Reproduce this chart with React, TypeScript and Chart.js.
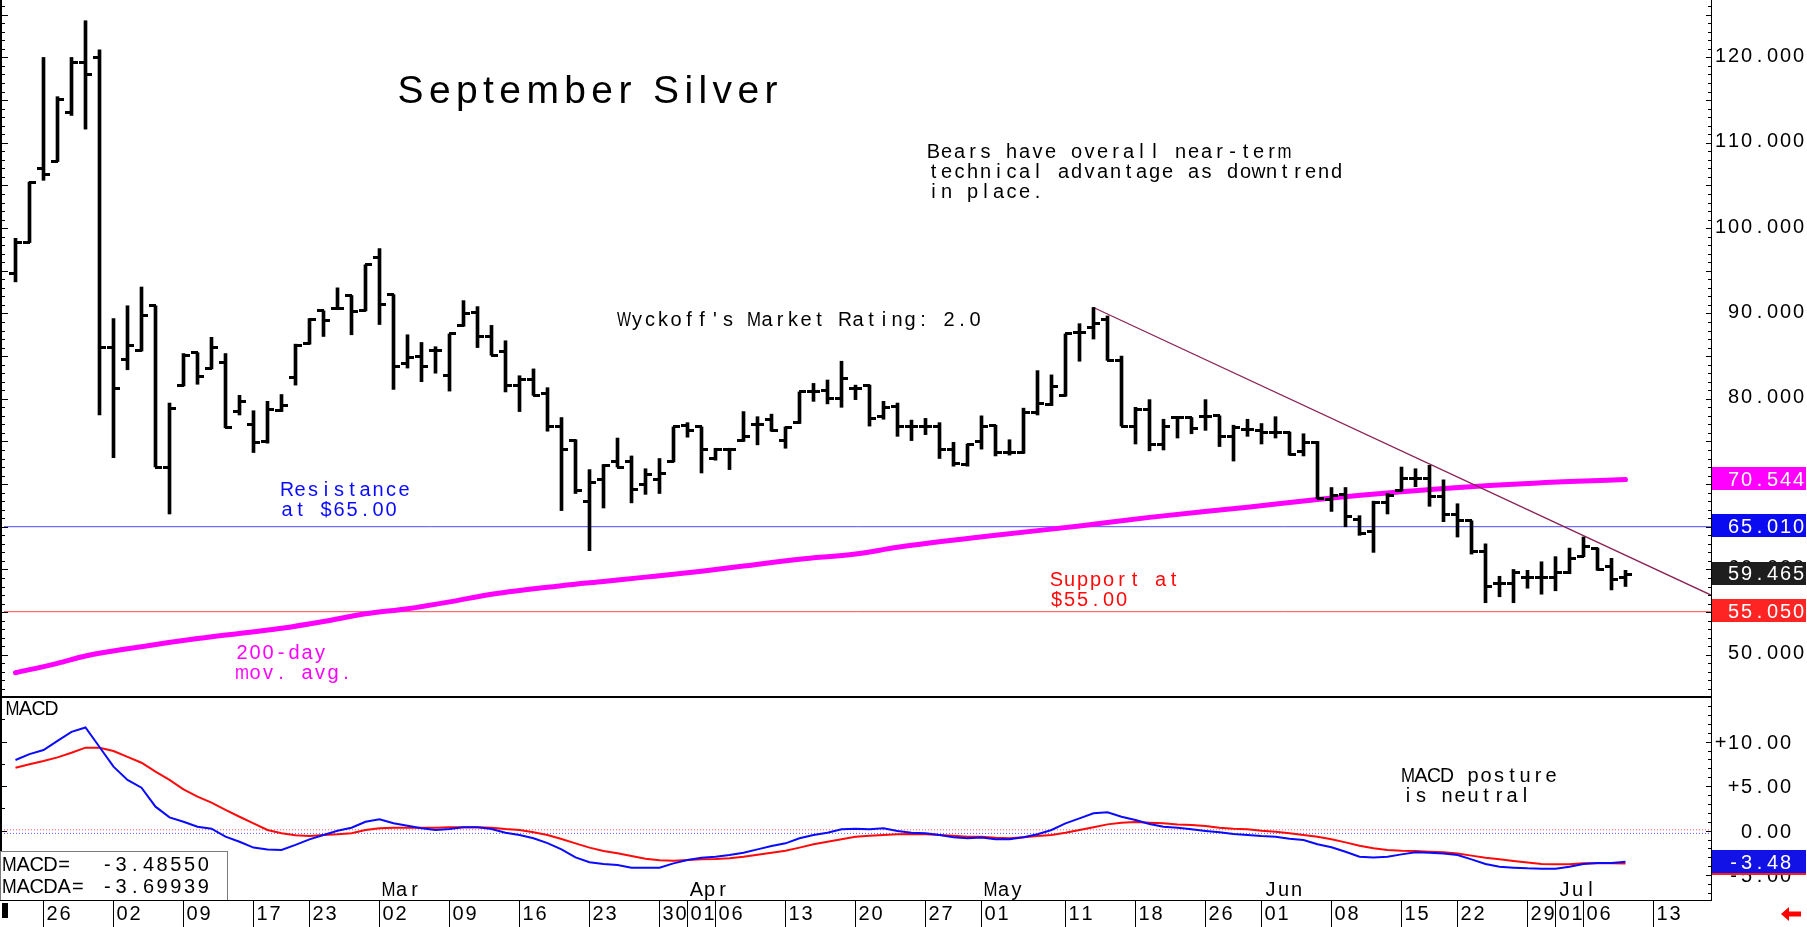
import React, { useEffect, useRef } from 'react';
import { Chart, registerables } from 'chart.js';

Chart.register(...registerables);

// ---------------- data ----------------
// trading-day index 0 = Jan 22, last (115) = Jul 09
const OPEN = [94.7, 98.3, 107.0, 107.8, 113.6, 119.4, 120.0, 86.0, 84.6, 85.7,
  90.9, 72.0, 81.5, 85.4, 83.6, 84.3, 78.5, 77.0, 75.0, 78.6,
  82.5, 86.5, 90.3, 90.6, 92.1, 90.4, 96.6, 92.2, 84.1, 84.9,
  85.7, 82.7, 88.6, 90.1, 87.3, 85.5, 81.5, 82.3, 80.6, 76.7,
  75.1, 68.0, 70.5, 72.6, 72.7, 69.9, 70.5, 72.7, 76.9, 76.7,
  73.0, 74.0, 75.1, 77.0, 77.6, 75.1, 77.2, 80.8, 81.0, 80.0,
  81.15, 81.5, 77.9, 79.1, 76.7, 76.8, 76.7, 74.1, 72.3, 75.0,
  76.9, 73.7, 73.7, 78.4, 79.3, 80.4, 87.75, 88.3, 89.3, 84.5,
  76.7, 78.8, 74.6, 77.8, 77.8, 77.9, 78.0, 75.6, 76.4, 76.3,
  76.0, 76.1, 73.8, 74.9, 68.2, 68.8, 65.9, 64.5, 67.9, 69.3,
  70.7, 70.7, 68.5, 66.4, 65.7, 62.1, 58.4, 58.4, 59.0, 59.0,
  59.0, 59.7, 61.5, 62.5, 60.3, 59.0];
const HIGH = [98.8, 105.4, 120.0, 115.4, 120.0, 124.3, 120.9, 89.4, 90.9, 93.1,
  90.9, 79.5, 85.3, 85.4, 87.2, 85.3, 80.4, 78.6, 79.7, 80.5,
  86.4, 89.4, 90.3, 93.0, 92.1, 95.7, 97.6, 92.2, 87.5, 86.6,
  86.1, 87.6, 91.5, 90.8, 88.6, 86.8, 82.7, 83.5, 81.3, 77.8,
  75.2, 71.7, 72.3, 75.4, 73.3, 71.8, 73.0, 76.7, 77.2, 76.7,
  74.2, 74.2, 78.5, 77.9, 78.2, 76.7, 80.8, 81.8, 82.2, 84.4,
  81.6, 81.6, 79.7, 79.5, 77.5, 77.7, 77.2, 74.9, 74.7, 78.0,
  76.9, 75.2, 78.9, 83.3, 82.8, 87.6, 88.8, 90.7, 89.7, 85.0,
  79.0, 79.9, 77.6, 77.9, 77.8, 79.9, 78.0, 76.9, 77.6, 77.1,
  77.9, 76.1, 75.9, 75.0, 69.6, 69.6, 66.3, 68.0, 68.9, 72.0,
  71.8, 72.2, 70.5, 67.7, 65.7, 63.0, 59.2, 60.0, 59.9, 60.9,
  61.5, 62.5, 63.8, 62.5, 61.3, 59.9];
const LOW = [93.7, 98.3, 105.6, 107.8, 113.2, 111.6, 78.1, 73.1, 83.4, 85.6,
  72.0, 66.5, 81.5, 81.7, 83.5, 76.6, 78.1, 73.7, 74.8, 78.5,
  81.6, 86.4, 87.3, 90.6, 87.5, 90.3, 88.7, 81.1, 83.6, 82.0,
  83.0, 80.9, 88.5, 86.0, 85.1, 80.8, 78.5, 80.4, 76.2, 66.9,
  68.9, 62.2, 67.2, 72.0, 67.8, 68.8, 68.9, 72.6, 75.5, 71.3,
  72.8, 71.7, 75.0, 74.6, 76.2, 74.2, 77.1, 79.7, 79.4, 79.0,
  79.9, 76.8, 77.6, 75.6, 75.1, 75.8, 73.0, 72.1, 72.1, 74.1,
  73.3, 73.4, 73.6, 78.1, 79.2, 80.3, 84.4, 87.0, 84.5, 76.8,
  74.7, 73.9, 74.0, 75.4, 75.9, 76.3, 74.4, 72.7, 75.6, 74.7,
  75.4, 73.4, 73.3, 68.3, 66.8, 65.0, 64.0, 62.0, 66.5, 69.2,
  69.7, 67.4, 65.6, 63.8, 61.8, 56.1, 56.8, 56.1, 57.8, 57.1,
  57.5, 59.5, 61.5, 59.9, 57.6, 58.0];
const CLOSE = [98.3, 105.4, 106.3, 115.1, 119.4, 118.0, 86.0, 81.2, 86.3, 89.7,
  72.0, 78.9, 85.1, 82.6, 86.0, 76.6, 79.7, 74.9, 78.8, 79.2,
  86.3, 89.3, 89.2, 90.6, 90.2, 95.7, 91.0, 83.8, 84.8, 83.8,
  85.7, 87.6, 90.0, 87.3, 85.1, 81.5, 82.3, 80.4, 76.7, 74.0,
  69.3, 70.2, 72.2, 72.0, 69.4, 71.1, 71.3, 76.7, 76.3, 74.0,
  74.1, 74.0, 75.6, 77.0, 76.3, 76.6, 80.8, 80.8, 80.0, 82.4,
  81.15, 77.7, 79.0, 76.7, 76.7, 76.8, 74.1, 72.4, 74.7, 76.7,
  73.7, 73.7, 78.4, 79.5, 81.4, 87.6, 87.75, 88.8, 84.5, 76.8,
  78.8, 74.6, 76.7, 77.8, 76.5, 77.9, 75.6, 76.6, 76.4, 76.0,
  76.0, 73.5, 74.9, 68.3, 68.7, 66.2, 64.2, 67.9, 68.7, 70.7,
  70.7, 68.5, 66.4, 65.7, 62.1, 58.0, 58.4, 59.7, 59.0, 59.0,
  59.7, 61.3, 62.7, 60.0, 58.8, 59.465];

// 200-day moving average, read at these trading-day indices
const MA_IDX = [0, 3, 5, 9, 13, 19, 22, 25, 28, 31, 34, 39, 42, 45, 49, 52, 56, 60, 63, 70, 76, 81, 88, 93, 99, 105, 111, 115];
const MA_VAL = [47.9, 49.0, 49.85, 50.95, 51.9, 53.1, 53.9, 54.8, 55.4, 56.2, 57.1, 58.1, 58.6, 59.1, 59.8, 60.4, 61.2, 61.8, 62.6, 64.0, 65.1, 66.1, 67.3, 68.2, 69.1, 69.8, 70.3, 70.544];

const MACD = [7.94, 8.6, 9.07, 10.1, 11.1, 11.6, 9.4, 7.2, 5.7, 4.83,
  2.7, 1.5, 1.0, 0.45, 0.22, -0.67, -1.24, -1.9, -2.1, -2.17,
  -1.6, -0.97, -0.48, 0.0, 0.34, 1.0, 1.28, 0.83, 0.56, 0.27,
  0.08, 0.19, 0.38, 0.38, 0.19, -0.22, -0.48, -0.85, -1.4, -2.1,
  -3.0, -3.55, -3.74, -3.85, -4.15, -4.15, -4.15, -3.67, -3.3, -3.03,
  -2.92, -2.73, -2.47, -2.1, -1.72, -1.42, -0.85, -0.48, -0.22, 0.15,
  0.22, 0.15, 0.27, -0.03, -0.22, -0.3, -0.48, -0.74, -0.85, -0.77,
  -0.96, -0.96, -0.74, -0.4, 0.08, 0.83, 1.39, 1.95, 2.06, 1.57,
  1.2, 0.75, 0.45, 0.34, 0.15, -0.03, -0.18, -0.37, -0.48, -0.6,
  -0.67, -0.9, -1.05, -1.53, -1.87, -2.36, -2.92, -3.0, -2.92, -2.66,
  -2.43, -2.47, -2.55, -2.73, -3.22, -3.74, -4.04, -4.15, -4.23, -4.27,
  -4.27, -4.04, -3.74, -3.63, -3.63, -3.4855];
const MACDA = [7.08, 7.46, 7.83, 8.24, 8.76, 9.33, 9.33, 8.96, 8.3, 7.64,
  6.63, 5.7, 4.65, 3.82, 3.15, 2.33, 1.57, 0.83, 0.08, -0.29,
  -0.52, -0.6, -0.48, -0.41, -0.29, 0.08, 0.27, 0.34, 0.34, 0.34,
  0.34, 0.38, 0.38, 0.38, 0.34, 0.19, 0.08, -0.18, -0.48, -0.93,
  -1.42, -1.9, -2.28, -2.54, -2.84, -3.14, -3.33, -3.37, -3.3, -3.22,
  -3.18, -3.1, -2.92, -2.7, -2.47, -2.25, -1.9, -1.53, -1.24, -0.97,
  -0.67, -0.56, -0.48, -0.41, -0.37, -0.41, -0.48, -0.56, -0.67, -0.67,
  -0.79, -0.86, -0.74, -0.6, -0.48, -0.22, 0.08, 0.38, 0.71, 0.9,
  0.97, 0.9, 0.83, 0.71, 0.64, 0.52, 0.34, 0.22, 0.15, 0.0,
  -0.11, -0.3, -0.48, -0.67, -0.97, -1.31, -1.68, -1.98, -2.17, -2.25,
  -2.28, -2.36, -2.43, -2.55, -2.8, -3.03, -3.22, -3.4, -3.56, -3.74,
  -3.78, -3.78, -3.67, -3.67, -3.67, -3.69939];

const DATE_TICK_IDX = [2, 7, 12, 17, 21, 26, 31, 36, 41, 46, 48, 50, 55, 60, 65, 69, 75, 80, 85, 89, 94, 99, 103, 108, 110, 112, 117];
const DATE_TICK_LABELS = ['26', '02', '09', '17', '23', '02', '09', '16', '23', '30', '01', '06', '13', '20', '27', '01', '11', '18', '26', '01', '08', '15', '22', '29', '01', '06', '13'];
const MONTH_IDX = [26, 48, 69, 89, 110];
const MONTH_LABELS = ['Mar', 'Apr', 'May', 'Jun', 'Jul'];

const PRICE_TICKS = [50, 60, 70, 80, 90, 100, 110, 120];
const PRICE_TICK_LABELS = ['50.000', '60.000', '70.000', '80.000', '90.000', '100.000', '110.000', '120.000'];
const MACD_TICKS = [10, 5, 0, -5];
const MACD_TICK_LABELS = ['+10.00', '+5.00', '0.00', '-5.00'];

const RESISTANCE = 65.01;
const SUPPORT = 55.05;
const MA_LAST = 70.544;
const LAST_CLOSE = 59.465;
const TREND_IDX = [77, 121.107];
const TREND_VAL = [90.7, 57.0];
const MACD_ZERO_RED = 0.1;
const MACD_ZERO_BLUE = -0.3;
const MACD_LAST = -3.4855;
const MACDA_LAST = -3.69939;

const TITLE = 'September Silver';
const BEARS_LINES = ['Bears have overall near-term', 'technical advantage as downtrend', 'in place.'];
const WYCKOFF = "Wyckoff's Market Rating: 2.0";
const RES_LINES = ['Resistance', 'at $65.00'];
const MA_LINES = ['200-day', 'mov. avg.'];
const SUP_LINES = ['Support at', '$55.00'];
const POSTURE_LINES = ['MACD posture', 'is neutral'];

// ---------------- layout ----------------
const W = 1807;
const H1 = 696;
const H2 = 231;
const X_MIN = -0.8214;
const X_MAX = 121.107;
const P_MIN = 45.17;
const P_MAX = 126.73;
const M_MIN = -7.787;
const M_MAX = 15.135;
const AXIS_X = 1711;
const FONT = '"Liberation Sans", Arial, Helvetica, sans-serif';

function trunc2(v: number) {
  return (Math.trunc(v * 100) / 100).toFixed(2);
}

function cellText(ctx: any, text: string, x0: number, yc: number, color = '#000', cell = 13, size = 20) {
  ctx.save();
  ctx.font = `${size}px ${FONT}`;
  ctx.fillStyle = color;
  ctx.textBaseline = 'alphabetic';
  ctx.textAlign = 'left';
  const base = yc + size * 0.358;
  for (let i = 0; i < text.length; i++) {
    const ch = text[i];
    if (ch === ' ') continue;
    const w = ctx.measureText(ch).width;
    const cx = x0 + (i + 0.5) * cell;
    const maxW = cell + 1;
    if (w > maxW) {
      ctx.save();
      ctx.translate(cx, base);
      ctx.scale(maxW / w, 1);
      ctx.fillText(ch, -w / 2, 0);
      ctx.restore();
    } else {
      ctx.fillText(ch, cx - w / 2, base);
    }
  }
  ctx.restore();
}
function cellTextR(ctx: any, text: string, xr: number, yc: number, color = '#000', cell = 13, size = 20) {
  cellText(ctx, text, xr - text.length * cell, yc, color, cell, size);
}
function spacedText(ctx: any, text: string, x0: number, baseline: number, totalW: number, size: number, color: string) {
  ctx.save();
  ctx.font = `${size}px ${FONT}`;
  ctx.fillStyle = color;
  ctx.textBaseline = 'alphabetic';
  const ws = [...text].map((ch) => ctx.measureText(ch).width);
  const sum = ws.reduce((a, b) => a + b, 0);
  const ls = (totalW - sum) / (text.length - 1);
  let x = x0;
  for (let i = 0; i < text.length; i++) {
    ctx.fillText(text[i], x, baseline);
    x += ws[i] + ls;
  }
  ctx.restore();
}
function valueBox(ctx: any, yc: number, fill: string, label: string, xr: number) {
  ctx.save();
  ctx.fillStyle = fill;
  ctx.fillRect(AXIS_X + 1, Math.round(yc - 11.5), 94, 23);
  ctx.restore();
  cellTextR(ctx, label, xr, yc, '#fff');
}

function tickImage(side: 'L' | 'R') {
  const c = document.createElement('canvas');
  c.width = 13;
  c.height = 3;
  const g = c.getContext('2d')!;
  g.fillStyle = '#000';
  if (side === 'L') g.fillRect(0, 0, 7, 3);
  else g.fillRect(6, 0, 7, 3);
  return c;
}

const pricePlugin = {
  id: 'priceDecor',
  beforeDatasetsDraw(chart: any) {
    const ctx = chart.ctx;
    spacedText(ctx, TITLE, 397.5, 103, 380, 39, '#000');
    BEARS_LINES.forEach((t, k) => cellText(ctx, t, 927, 151 + k * 19.7));
    cellText(ctx, WYCKOFF, 617.5, 318.5);
    RES_LINES.forEach((t, k) => cellText(ctx, t, 280.5, 489.2 + k * 20, '#0a0aff'));
    MA_LINES.forEach((t, k) => cellText(ctx, t, 235.5, 652.2 + k * 20, '#ff00ff'));
    SUP_LINES.forEach((t, k) => cellText(ctx, t, 1050, 578.5 + k * 20, '#ff0a0a'));
  },
  afterDraw(chart: any) {
    const ctx = chart.ctx;
    const y = chart.scales.y;
    ctx.save();
    ctx.fillStyle = '#000';
    ctx.fillRect(0, 0, 2, H1);
    ctx.fillRect(AXIS_X, 0, 1, H1);
    for (let v = Math.ceil(P_MIN); v <= Math.floor(P_MAX); v++) {
      const py = Math.round(y.getPixelForValue(v));
      const major = v % 5 === 0;
      ctx.fillRect(2, py, major ? 6 : 3, 1);
      ctx.fillRect(AXIS_X - (major ? 5 : 3), py, major ? 5 : 3, 1);
    }
    ctx.restore();
    PRICE_TICKS.forEach((v, k) => cellTextR(ctx, PRICE_TICK_LABELS[k], 1805, y.getPixelForValue(v) - 2.5));
    valueBox(ctx, y.getPixelForValue(MA_LAST) - 1, '#ff00ff', MA_LAST.toFixed(3), 1805);
    valueBox(ctx, y.getPixelForValue(RESISTANCE) - 1, '#0b0bf2', RESISTANCE.toFixed(3), 1805);
    valueBox(ctx, y.getPixelForValue(LAST_CLOSE) - 1, '#1e1e1e', LAST_CLOSE.toFixed(3), 1805);
    valueBox(ctx, y.getPixelForValue(SUPPORT) - 1, '#ff2424', SUPPORT.toFixed(3), 1805);
  },
};

const macdPlugin = {
  id: 'macdDecor',
  afterDraw(chart: any) {
    const ctx = chart.ctx;
    const y = chart.scales.y;
    const x = chart.scales.x;
    const bottom = chart.chartArea.bottom; // full y = 900
    ctx.save();
    ctx.fillStyle = '#000';
    ctx.fillRect(0, 0, AXIS_X + 1, 2);
    ctx.fillRect(0, 0, 2, bottom);
    ctx.fillRect(AXIS_X, 0, 1, bottom);
    for (let v = Math.ceil(M_MIN); v <= Math.floor(M_MAX); v++) {
      const py = Math.round(y.getPixelForValue(v));
      const major = v % 5 === 0;
      ctx.fillRect(AXIS_X - (major ? 5 : 3), py, major ? 5 : 3, 1);
    }
    for (let v = -7.5; v <= 15; v += 2.5) {
      const py = Math.round(y.getPixelForValue(v));
      ctx.fillRect(2, py, v % 5 === 0 ? 5 : 3, 1);
    }
    ctx.restore();

    MACD_TICKS.forEach((v, k) => cellTextR(ctx, MACD_TICK_LABELS[k], 1792, y.getPixelForValue(v)));
    valueBox(ctx, y.getPixelForValue(MACDA_LAST), '#ff1a1a', trunc2(MACDA_LAST), 1792);
    valueBox(ctx, y.getPixelForValue(MACD_LAST), '#1212e6', trunc2(MACD_LAST), 1792);

    cellText(ctx, 'MACD', 6, 12);
    POSTURE_LINES.forEach((t, k) => cellText(ctx, t, 1401.5, 79 + k * 19.5));

    // MACD value box
    ctx.save();
    ctx.fillStyle = '#fff';
    ctx.fillRect(0, 155, 228, bottom - 155);
    ctx.strokeStyle = '#7a7a7a';
    ctx.lineWidth = 1;
    ctx.strokeRect(0.5, 155.5, 227, bottom - 155);
    ctx.restore();
    cellText(ctx, 'MACD=', 2.5, 167.7, '#000', 13.7);
    cellText(ctx, MACD_LAST.toFixed(5), 100.5, 167.7, '#000', 13.7);
    cellText(ctx, 'MACDA=', 2.5, 189.8, '#000', 13.7);
    cellText(ctx, MACDA_LAST.toFixed(5), 100.5, 189.8, '#000', 13.7);

    // month labels
    MONTH_IDX.forEach((i, k) => {
      const px = x.getPixelForValue(i);
      cellText(ctx, MONTH_LABELS[k], px + 2.5, 193.3);
    });

    // date strip
    ctx.save();
    ctx.fillStyle = '#000';
    ctx.fillRect(0, bottom, AXIS_X + 1, 1);
    DATE_TICK_IDX.forEach((i) => {
      const px = Math.floor(x.getPixelForValue(i));
      ctx.fillRect(px, bottom, 1, H2 - bottom);
    });
    ctx.fillRect(2, 207, 6, 15);
    // red arrow
    ctx.fillStyle = '#ff0000';
    ctx.beginPath();
    ctx.moveTo(1781, 218);
    ctx.lineTo(1789, 211);
    ctx.lineTo(1789, 215.5);
    ctx.lineTo(1801, 215.5);
    ctx.lineTo(1801, 220.5);
    ctx.lineTo(1789, 220.5);
    ctx.lineTo(1789, 225);
    ctx.closePath();
    ctx.fill();
    ctx.restore();
    DATE_TICK_IDX.forEach((i, k) => {
      const px = Math.floor(x.getPixelForValue(i));
      cellText(ctx, DATE_TICK_LABELS[k], px + 2.5, 217);
    });
  },
};

export default function App() {
  const r1 = useRef<HTMLCanvasElement>(null);
  const r2 = useRef<HTMLCanvasElement>(null);

  useEffect(() => {
    const idx = OPEN.map((_, i) => i);
    const leftImg = tickImage('L');
    const rightImg = tickImage('R');

    const xScale = { type: 'linear', min: X_MIN, max: X_MAX, display: false, offset: false, grid: { offset: false } };

    const c1 = new Chart(r1.current as HTMLCanvasElement, {
      type: 'line',
      data: {
        datasets: [
          {
            type: 'bar',
            data: idx.map((i) => ({ x: i, y: [LOW[i], HIGH[i]] })),
            backgroundColor: '#000',
            borderWidth: 0,
            barThickness: 3,
            grouped: false,
            order: 0,
          } as any,
          {
            type: 'scatter',
            data: idx.map((i) => ({ x: i, y: OPEN[i] })),
            pointStyle: leftImg,
            pointRadius: 3,
            order: 0,
          } as any,
          {
            type: 'scatter',
            data: idx.map((i) => ({ x: i, y: CLOSE[i] })),
            pointStyle: rightImg,
            pointRadius: 3,
            order: 0,
          } as any,
          {
            type: 'line',
            data: TREND_IDX.map((xv, k) => ({ x: xv, y: TREND_VAL[k] })),
            borderColor: '#8c2456',
            borderWidth: 1.3,
            pointRadius: 0,
            order: 1,
          },
          {
            type: 'line',
            data: MA_IDX.map((xv, k) => ({ x: xv, y: MA_VAL[k] })),
            borderColor: '#ff00ff',
            borderWidth: 5,
            pointRadius: 0,
            cubicInterpolationMode: 'monotone',
            borderCapStyle: 'round',
            order: 2,
          },
          {
            type: 'line',
            data: [{ x: X_MIN, y: RESISTANCE }, { x: X_MAX, y: RESISTANCE }],
            borderColor: '#4a4aff',
            borderWidth: 1,
            pointRadius: 0,
            order: 3,
          },
          {
            type: 'line',
            data: [{ x: X_MIN, y: SUPPORT }, { x: X_MAX, y: SUPPORT }],
            borderColor: '#ff4a4a',
            borderWidth: 1,
            pointRadius: 0,
            order: 3,
          },
        ],
      },
      options: {
        responsive: false,
        animation: false,
        events: [],
        layout: { autoPadding: false, padding: { left: 4, right: W - AXIS_X, top: 0, bottom: 0 } },
        scales: {
          x: xScale,
          y: { type: 'linear', min: P_MIN, max: P_MAX, display: false, beginAtZero: false },
        },
        plugins: { legend: { display: false }, tooltip: { enabled: false } },
      } as any,
      plugins: [pricePlugin],
    });

    const c2 = new Chart(r2.current as HTMLCanvasElement, {
      type: 'line',
      data: {
        datasets: [
          {
            data: idx.map((i) => ({ x: i, y: MACD[i] })),
            borderColor: '#0a0aff',
            borderWidth: 2,
            pointRadius: 0,
            order: 0,
          },
          {
            data: idx.map((i) => ({ x: i, y: MACDA[i] })),
            borderColor: '#ff0a0a',
            borderWidth: 2,
            pointRadius: 0,
            order: 1,
          },
          {
            data: [{ x: X_MIN, y: MACD_ZERO_RED }, { x: X_MAX, y: MACD_ZERO_RED }],
            borderColor: '#ff5050',
            borderWidth: 1,
            borderDash: [1, 2],
            pointRadius: 0,
            order: 2,
          },
          {
            data: [{ x: X_MIN, y: MACD_ZERO_BLUE }, { x: X_MAX, y: MACD_ZERO_BLUE }],
            borderColor: '#5050ff',
            borderWidth: 1,
            borderDash: [1, 2],
            pointRadius: 0,
            order: 2,
          },
        ],
      },
      options: {
        responsive: false,
        animation: false,
        events: [],
        layout: { autoPadding: false, padding: { left: 4, right: W - AXIS_X, top: 0, bottom: 27 } },
        scales: {
          x: xScale,
          y: { type: 'linear', min: M_MIN, max: M_MAX, display: false },
        },
        plugins: { legend: { display: false }, tooltip: { enabled: false } },
      } as any,
      plugins: [macdPlugin],
    });

    return () => {
      c1.destroy();
      c2.destroy();
    };
  }, []);

  return (
    <div style={{ position: 'fixed', left: 0, top: 0, width: W, height: H1 + H2, background: '#fff', overflow: 'hidden' }}>
      <canvas ref={r1} width={W} height={H1} style={{ position: 'absolute', left: 0, top: 0, width: W, height: H1 }} />
      <canvas ref={r2} width={W} height={H2} style={{ position: 'absolute', left: 0, top: H1, width: W, height: H2 }} />
    </div>
  );
}
